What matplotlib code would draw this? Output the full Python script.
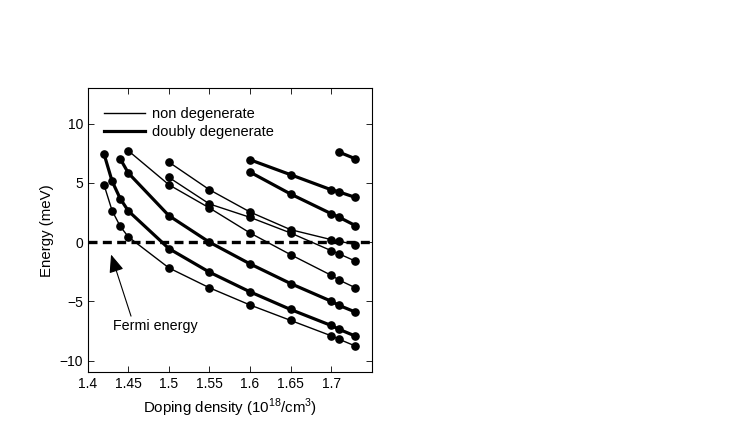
"""Subband energies versus doping density."""
import matplotlib
matplotlib.use("Agg")
import matplotlib.pyplot as plt
from matplotlib.lines import Line2D

plt.rcParams["font.family"] = ["Liberation Sans", "DejaVu Sans"]
plt.rcParams["font.size"] = 10
plt.rcParams["mathtext.fontset"] = "custom"
plt.rcParams["mathtext.rm"] = "Liberation Sans"

# doping density values (10^18 / cm^3)
x_full = [1.42, 1.43, 1.44, 1.45, 1.5, 1.55, 1.6, 1.65, 1.7, 1.71, 1.73]
x_from_144 = [1.44, 1.45, 1.5, 1.55, 1.6, 1.65, 1.7, 1.71, 1.73]
x_from_145 = [1.45, 1.5, 1.55, 1.6, 1.65, 1.7, 1.71, 1.73]
x_from_150 = [1.5, 1.55, 1.6, 1.65, 1.7, 1.71, 1.73]
x_from_160 = [1.6, 1.65, 1.7, 1.71, 1.73]
x_from_171 = [1.71, 1.73]

# non degenerate levels (meV)
nd_1 = [4.85, 2.66, 1.34, 0.45, -2.17, -3.85, -5.3, -6.6, -7.9, -8.2, -8.77]
nd_2 = [7.72, 4.85, 2.89, 0.78, -1.05, -2.79, -3.2, -3.85]
nd_3 = [6.76, 4.43, 2.55, 1.06, 0.22, 0.08, -0.2]
nd_4 = [5.47, 3.23, 2.1, 0.78, -0.71, -0.99, -1.6]

# doubly degenerate levels (meV)
dd_1 = [7.46, 5.15, 3.68, 2.64, -0.54, -2.53, -4.19, -5.68, -7.03, -7.36, -7.93]
dd_2 = [7.04, 5.84, 2.24, 0.0, -1.83, -3.49, -4.98, -5.34, -5.9]
dd_3 = [6.96, 5.7, 4.43, 4.24, 3.78]
dd_4 = [5.92, 4.07, 2.41, 2.1, 1.4]
dd_5 = [7.6, 7.04]

non_degenerate = [(x_full, nd_1), (x_from_145, nd_2),
                  (x_from_150, nd_3), (x_from_150, nd_4)]
doubly_degenerate = [(x_full, dd_1), (x_from_144, dd_2), (x_from_160, dd_3),
                     (x_from_160, dd_4), (x_from_171, dd_5)]

x_ticks = [1.4, 1.45, 1.5, 1.55, 1.6, 1.65, 1.7]
x_tick_labels = ["1.4", "1.45", "1.5", "1.55", "1.6", "1.65", "1.7"]
y_ticks = [-10, -5, 0, 5, 10]

fig = plt.figure(figsize=(7.47, 4.23), dpi=100)
ax = fig.add_axes([0.1175, 0.1194, 0.3801, 0.672])

for xs, ys in non_degenerate:
    ax.plot(xs, ys, color="black", lw=1.0, marker="o", ms=5.2)
for xs, ys in doubly_degenerate:
    ax.plot(xs, ys, color="black", lw=2.3, marker="o", ms=5.2)

ax.axhline(0, color="black", lw=2.4, dashes=(2.7, 1.6), zorder=3)

ax.annotate("", xy=(1.4287, -1.04), xytext=(1.4533, -6.24),
            arrowprops=dict(arrowstyle="-|>,head_length=1.1,head_width=0.45",
                            color="black", lw=0.8, shrinkA=0, shrinkB=0))
ax.text(1.4313, -7.1, "Fermi energy", ha="left", va="center", fontsize=10.3)

handles = [Line2D([], [], color="black", lw=1.0),
           Line2D([], [], color="black", lw=2.3)]
ax.legend(handles, ["non degenerate", "doubly degenerate"],
          loc="upper left", bbox_to_anchor=(0.058, 0.935), frameon=False,
          borderpad=0, borderaxespad=0, handlelength=2.8,
          handletextpad=0.47, labelspacing=0.3, fontsize=10.5)

ax.set_xlim(1.4, 1.75)
ax.set_ylim(-11, 13)
ax.set_xticks(x_ticks)
ax.set_xticklabels(x_tick_labels)
ax.set_yticks(y_ticks)
ax.tick_params(direction="in", top=True, right=True, length=4, width=0.6)
for side in ax.spines.values():
    side.set_linewidth(0.8)

ax.set_xlabel(r"Doping density (10$^{18}$/cm$^{3}$)", fontsize=10.8)
ax.set_ylabel("Energy (meV)", fontsize=10.8)

fig.savefig("out.png", dpi=100)
